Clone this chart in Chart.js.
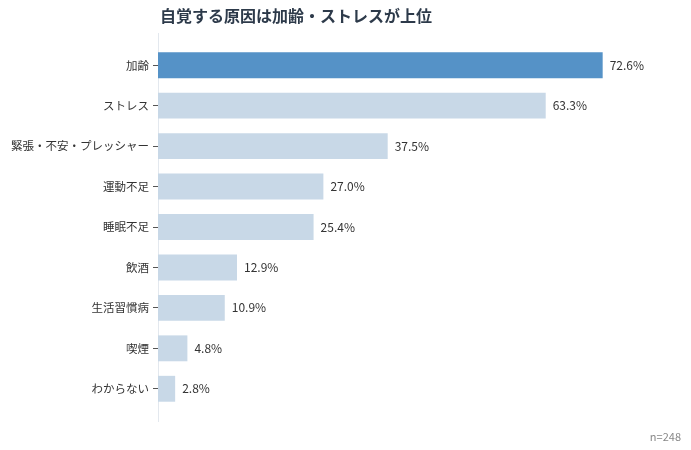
<!DOCTYPE html>
<html><head><meta charset="utf-8">
<script src="https://cdn.jsdelivr.net/npm/chart.js@4.4.1/dist/chart.umd.min.js"></script>
<style>
html,body{margin:0;padding:0;background:#fff;}
#wrap{position:relative;width:691px;height:450px;font-family:"Noto Sans CJK JP","Noto Sans",sans-serif;}
#title{position:absolute;left:160px;top:3px;font-size:16px;font-weight:bold;color:#2d3a4a;white-space:nowrap;}
#note{position:absolute;right:10px;top:428px;font-size:11px;color:#888;}
canvas{position:absolute;left:0;top:0;}
</style></head><body>
<div id="wrap">
<canvas id="c" width="691" height="450"></canvas>
<div id="title">自覚する原因は加齢・ストレスが上位</div>
<div id="note">n=248</div>
</div>
<script>
const categories = ["加齢","ストレス","緊張・不安・プレッシャー","運動不足","睡眠不足","飲酒","生活習慣病","喫煙","わからない"];
const values = [72.6,63.3,37.5,27.0,25.4,12.9,10.9,4.8,2.8];
const highlight = [true,false,false,false,false,false,false,false,false];

const FONT = '"Noto Sans CJK JP","Noto Sans",sans-serif';

const labelPlugin = {
  id:'vlabels',
  afterDatasetsDraw(chart){
    const ctx = chart.ctx;
    const meta = chart.getDatasetMeta(0);
    ctx.save();
    ctx.font = '12px ' + FONT;
    ctx.fillStyle = '#333';
    ctx.textBaseline = 'middle';
    ctx.textAlign = 'left';
    meta.data.forEach((bar,i)=>{
      ctx.fillText(values[i].toFixed(1)+'%', bar.x + 7, bar.y);
    });
    ctx.restore();
  }
};
const axisLine = {
  id:'axisLine',
  beforeDatasetsDraw(chart){
    const ctx = chart.ctx, a = chart.chartArea;
    ctx.save();
    ctx.strokeStyle = '#e3e8ee';
    ctx.lineWidth = 1;
    ctx.beginPath();
    ctx.moveTo(a.left+0.5, a.top-12);
    ctx.lineTo(a.left+0.5, a.bottom+13);
    ctx.stroke();
    ctx.restore();
  }
};

new Chart(document.getElementById('c'), {
  type:'bar',
  data:{
    labels: categories,
    datasets:[{
      data: values,
      backgroundColor: highlight.map(h=> h ? '#5592c7' : '#c8d8e7'),
      categoryPercentage: 0.64,
      barPercentage: 1.0,
      borderWidth: 0
    }]
  },
  options:{
    responsive:false,
    animation:false,
    indexAxis:'y',
    layout:{padding:{top:45,bottom:41,left:0,right:43}},
    plugins:{legend:{display:false},tooltip:{enabled:false},title:{display:false}},
    scales:{
      x:{display:false,min:0,max:80},
      y:{
        afterFit(s){ s.width = 158; },
        border:{display:false},
        grid:{display:true,offset:false,drawOnChartArea:false,drawTicks:true,tickLength:5,color:'#555',lineWidth:1},
        ticks:{color:'#333',font:{size:11.5,family:FONT},padding:4}
      }
    }
  },
  plugins:[labelPlugin, axisLine]
});
</script>
</body></html>
